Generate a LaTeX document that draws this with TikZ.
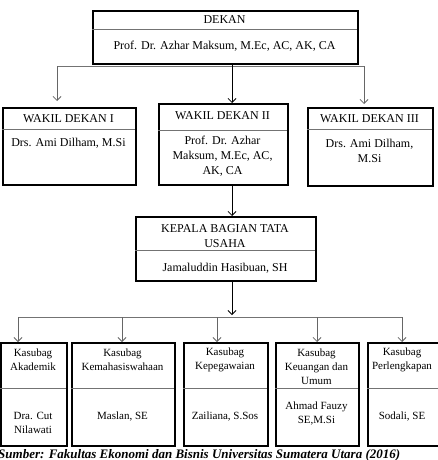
\documentclass[tikz,border=0pt]{standalone}
\usepackage{fontspec}
\setmainfont{Liberation Serif}
\usetikzlibrary{arrows.meta}
\begin{document}
\begin{tikzpicture}[x=1pt,y=-1pt,
  box/.style={draw=black, line width=1.8pt, inner sep=0pt, anchor=north west},
  div/.style={draw=black!55, line width=0.8pt},
  big/.style={align=center, inner sep=0pt, font=\fontsize{12}{15}\selectfont},
  small/.style={align=center, inner sep=0pt, font=\fontsize{11}{14}\selectfont},
  bus/.style={draw=black!55, line width=0.8pt},
  arr/.style={draw=black, line width=0.8pt, -{Straight Barb[length=4pt,width=8pt]}},
  garr/.style={draw=black!60, line width=0.8pt, -{Straight Barb[length=4pt,width=8pt]}}
]
\useasboundingbox (0,0) rectangle (438,460);
\fill[white] (0,0) rectangle (438,460);

% ---- DEKAN ----
\node[box, minimum width=265pt, minimum height=53pt] (dekan) at (92,10) {};
\draw[div] (92,29) -- (357,29);
\node[big] (dekanT) at (224.5,20) {DEKAN};
\node[big] (dekanN) at (224.5,46.5) {Prof. Dr. Azhar Maksum, M.Ec, AC, AK, CA};

% ---- WAKIL DEKAN ----
\node[box, minimum width=133pt, minimum height=77pt] (w1) at (2,107) {};
\draw[div] (2,129) -- (135,129);
\node[big] (w1T) at (68.5,118.5) {WAKIL DEKAN I};
\node[big] (w1N) at (68.5,143.5) {Drs. Ami Dilham, M.Si};

\node[box, minimum width=129pt, minimum height=81pt] (w2) at (158,103) {};
\draw[div] (158,130) -- (287,130);
\node[big] (w2T) at (222.5,115.5) {WAKIL DEKAN II};
\node[big] (w2N) at (222.5,156) {Prof. Dr. Azhar\\Maksum, M.Ec, AC,\\AK, CA};

\node[box, minimum width=125pt, minimum height=78pt] (w3) at (307,107) {};
\draw[div] (307,129) -- (432,129);
\node[big] (w3T) at (369.5,118.5) {WAKIL DEKAN III};
\node[big] (w3N) at (369.5,151) {Drs. Ami Dilham,\\M.Si};

% ---- KEPALA BAGIAN TATA USAHA ----
\node[box, minimum width=180pt, minimum height=64pt] (kbtu) at (135,216) {};
\draw[div] (135,250) -- (315,250);
\node[big] (kbtuT) at (225,236) {KEPALA BAGIAN TATA\\USAHA};
\node[big] (kbtuN) at (225,268) {Jamaluddin Hasibuan, SH};

% ---- KASUBAG ----
\node[box, minimum width=66pt, minimum height=103pt] (k1) at (0,342) {};
\node[box, minimum width=103pt, minimum height=103pt] (k2) at (71,342) {};
\node[box, minimum width=84pt, minimum height=103pt] (k3) at (183,342) {};
\node[box, minimum width=83pt, minimum height=103pt] (k4) at (275,342) {};
\node[box, minimum width=73pt, minimum height=103pt] (k5) at (367,342) {};
\draw[div] (0,388) -- (66,388);
\draw[div] (71,388) -- (174,388);
\draw[div] (183,388) -- (267,388);
\draw[div] (275,388) -- (358,388);
\draw[div] (367,388) -- (440,388);

\node[small] (k1T) at (33,360) {Kasubag\\Akademik};
\node[small] (k1N) at (33,423) {Dra. Cut\\Nilawati};
\node[small] (k2T) at (122.5,360) {Kasubag\\Kemahasiswahaan};
\node[small] (k2N) at (122.5,416.5) {Maslan, SE};
\node[small] (k3T) at (225,360) {Kasubag\\Kepegawaian};
\node[small] (k3N) at (225,416.5) {Zailiana, S.Sos};
\node[small] (k4T) at (316.5,367) {Kasubag\\Keuangan dan\\Umum};
\node[small] (k4N) at (316.5,413.5) {Ahmad Fauzy\\SE,M.Si};
\node[small] (k5T) at (402,360) {Kasubag\\Perlengkapan};
\node[small] (k5N) at (402,416.5) {Sodali, SE};

% ---- connectors ----
\coordinate (spine) at (232,0);
\coordinate (busL) at (57,66);
\coordinate (busR) at (364,66);
\coordinate (tipW1) at (57,101);
\coordinate (tipW3) at (364,104);
\draw[bus] (busL) -- (busR);
\draw[garr] (busL) -- (tipW1);
\draw[garr] (busR) -- (tipW3);
\draw[arr] (dekan.south -| spine) -- (w2.north -| spine);
\draw[arr] (w2.south -| spine) -- (kbtu.north -| spine);

\coordinate (tipB) at (232,315);
\draw[arr] (kbtu.south -| spine) -- (tipB);
\coordinate (b1) at (18,317);
\coordinate (b2) at (122,317);
\coordinate (b3) at (217,317);
\coordinate (b4) at (317,317);
\coordinate (b5) at (402,317);
\draw[bus] (b1) -- (b5);
\draw[garr] (b1) -- (k1.north -| b1);
\draw[garr] (b2) -- (k2.north -| b2);
\draw[garr] (b3) -- (k3.north -| b3);
\draw[garr] (b4) -- (k4.north -| b4);
\draw[garr] (b5) -- (k5.north -| b5);

% ---- caption ----
\node[anchor=base west, inner sep=0pt, font=\fontsize{13}{15}\selectfont\bfseries\itshape] (src) at (-2,458.5)
  {Sumber: Fakultas Ekonomi dan Bisnis Universitas Sumatera Utara (2016)};
\end{tikzpicture}
\end{document}
